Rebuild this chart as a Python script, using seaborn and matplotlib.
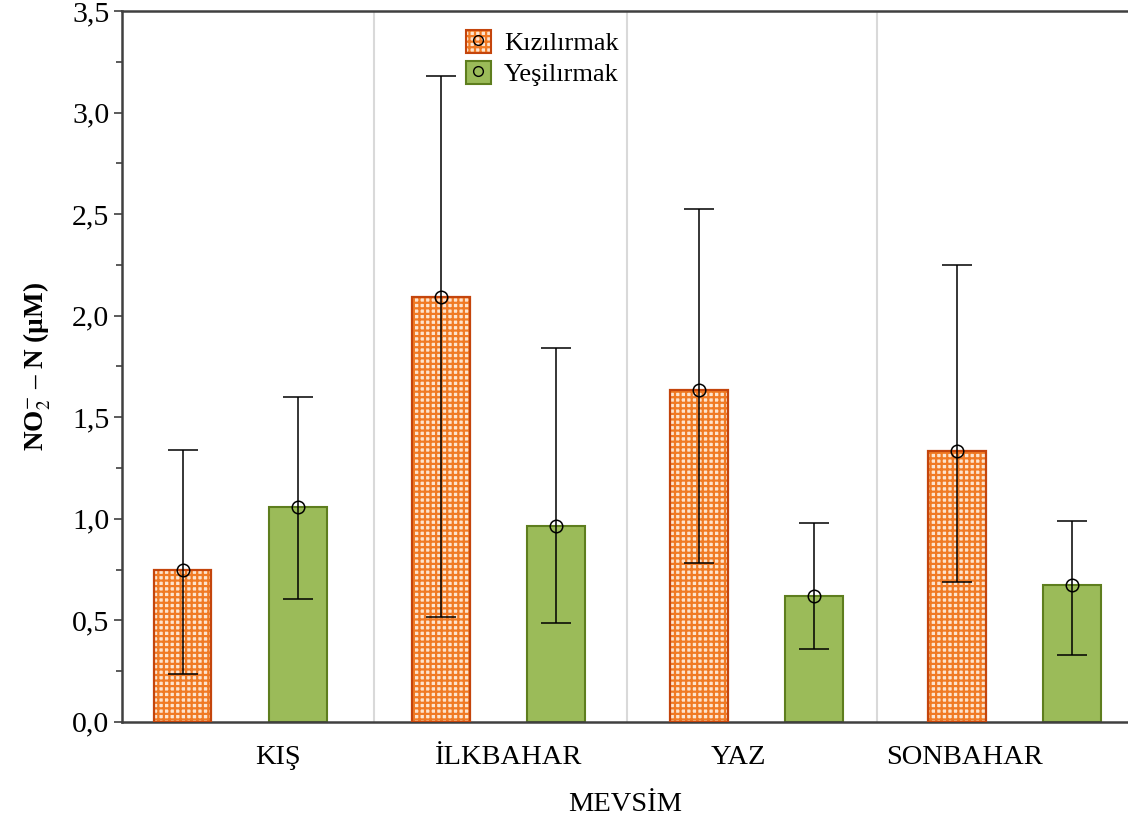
import numpy as np
import pandas as pd
import matplotlib
matplotlib.use('Agg')
import matplotlib.pyplot as plt
import seaborn as sns
from matplotlib.patches import Patch
from matplotlib.lines import Line2D
from matplotlib.ticker import MultipleLocator

# NO2-N by season for the two rivers (mean with lower/upper error limits)
seasons = ['KIŞ', 'İLKBAHAR', 'YAZ', 'SONBAHAR']
rivers = ['Kızılırmak', 'Yeşilırmak']
kizil_mean = [0.75, 2.09, 1.635, 1.335]
kizil_low = [0.235, 0.515, 0.78, 0.69]
kizil_high = [1.34, 3.18, 2.525, 2.25]
yesil_mean = [1.06, 0.965, 0.62, 0.675]
yesil_low = [0.605, 0.485, 0.36, 0.33]
yesil_high = [1.60, 1.84, 0.98, 0.99]

df = pd.DataFrame({
    'Mevsim': seasons * 2,
    'Nehir': [rivers[0]] * 4 + [rivers[1]] * 4,
    'NO2': kizil_mean + yesil_mean,
})

sns.set_style('white')
plt.rcParams['font.family'] = ['Liberation Serif', 'DejaVu Serif']
plt.rcParams['mathtext.fontset'] = 'stix'
plt.rcParams['hatch.linewidth'] = 1.6
plt.rcParams['text.color'] = 'black'
plt.rcParams['axes.labelcolor'] = 'black'
plt.rcParams['xtick.color'] = 'black'
plt.rcParams['ytick.color'] = 'black'

orange_hatch = '#F07A24'
orange_face = '#FCE4CF'
orange_edge = '#C4450C'
green_face = '#9BBB59'
green_edge = '#5E7E1E'

fig = plt.figure(figsize=(11.28, 8.25), dpi=100)
ax = fig.add_axes([0.108, 0.125, 0.892, 0.8617])

sns.barplot(data=df, x='Mevsim', y='NO2', hue='Nehir', order=seasons,
            hue_order=rivers, errorbar=None, width=0.892, gap=0.5,
            legend=False, ax=ax)

for p in ax.containers[0]:
    p.set_facecolor(orange_face)
    p.set_edgecolor(orange_hatch)
    p.set_hatch('+++')
    p.set_linewidth(0)
    ax.add_patch(plt.Rectangle((p.get_x(), 0), p.get_width(), p.get_height(),
                               fill=False, edgecolor=orange_edge, lw=1.6, zorder=3))
for p in ax.containers[1]:
    p.set_facecolor(green_face)
    p.set_edgecolor(green_edge)
    p.set_linewidth(1.5)

for cont, m, lo, hi in [(ax.containers[0], kizil_mean, kizil_low, kizil_high),
                        (ax.containers[1], yesil_mean, yesil_low, yesil_high)]:
    xs = [p.get_x() + p.get_width() / 2 for p in cont]
    m = np.array(m)
    yerr = [m - np.array(lo), np.array(hi) - m]
    ax.errorbar(xs, m, yerr=yerr, fmt='o', color='black', mfc='none',
                mec='black', ms=9, mew=1.1, elinewidth=1.1, capsize=11,
                capthick=1.1, zorder=5)

for sep in [0.52, 1.497, 2.466]:
    ax.axvline(sep, color='#D9D9D9', lw=1.5, zorder=0)

ax.set_xlim(-0.459, 3.44)
ax.set_ylim(0, 3.5)
ax.yaxis.set_major_locator(MultipleLocator(0.5))
ax.yaxis.set_minor_locator(MultipleLocator(0.25))
yt = np.arange(0, 3.51, 0.5)
ax.set_yticks(yt)
ax.set_yticklabels([f'{v:.1f}'.replace('.', ',') for v in yt])
ax.tick_params(axis='y', which='major', left=True, length=6, width=1.2,
               pad=3, labelsize=21.5, color='#404040')
ax.tick_params(axis='y', which='minor', left=True, length=4, width=1.2,
               color='#404040')
ax.set_xticks([0.147, 1.04, 1.93, 2.805])
ax.set_xticklabels(seasons)
ax.tick_params(axis='x', bottom=False, labelsize=20.5, pad=13)

for side in ['left', 'top', 'bottom']:
    ax.spines[side].set_color('#404040')
    ax.spines[side].set_linewidth(1.8)
ax.spines['right'].set_visible(False)

ax.set_xlabel('MEVSİM', fontsize=20.5, labelpad=16)
ax.set_ylabel(r'NO$_2^{-}$ – N (µM)', fontsize=19.5, fontweight='bold', labelpad=14)

handles = [
    (Patch(facecolor=orange_face, edgecolor=orange_hatch, hatch='+++', lw=0),
     Patch(facecolor='none', edgecolor=orange_edge, lw=1.5),
     Line2D([], [], marker='o', ls='none', mfc='none', mec='black', ms=7, mew=1)),
    (Patch(facecolor=green_face, edgecolor=green_edge, lw=1.5),
     Line2D([], [], marker='o', ls='none', mfc='none', mec='black', ms=7, mew=1)),
]
fig.legend(handles, rivers, loc='upper left', bbox_to_anchor=(0.392, 0.993),
           frameon=False, fontsize=19, handlelength=0.95, handleheight=1.0,
           handletextpad=0.5, labelspacing=0.2)

fig.savefig('out.png', dpi=100)
